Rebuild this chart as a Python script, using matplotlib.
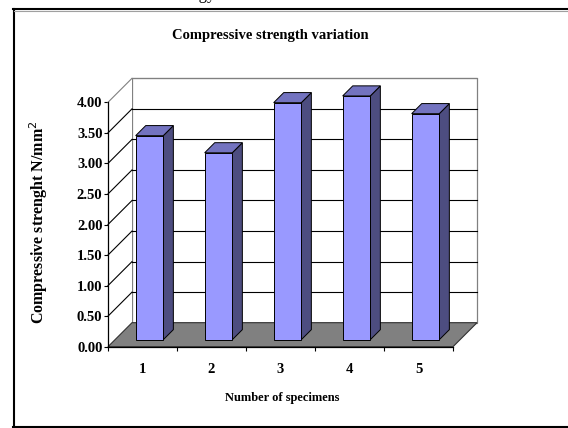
import numpy as np
import matplotlib
matplotlib.use("Agg")
import matplotlib.pyplot as plt
from matplotlib.patches import Polygon, Rectangle
from matplotlib.lines import Line2D
from matplotlib.ticker import FormatStrFormatter

# ── data ─────────────────────────────────────────────────────────────────────
specimens = ["1", "2", "3", "4", "5"]
strength = [3.34, 3.06, 3.88, 3.99, 3.70]
yticks = [0.0, 0.5, 1.0, 1.5, 2.0, 2.5, 3.0, 3.5, 4.0]

# ── palette ──────────────────────────────────────────────────────────────────
FRONT = "#9999FF"
SIDE = "#4D4D80"
TOP = "#7373C0"
FLOOR = "#808080"
WALL_EDGE = "#808080"
SERIF = ["Liberation Serif", "DejaVu Serif"]

# oblique depth offset (data units for full depth)
DX, DY = 0.348, 0.393
D0, D1 = 0.29, 0.71      # bar depth range
HALF = 0.2               # half bar width

W, H = 568, 428
fig = plt.figure(figsize=(W / 100, H / 100), dpi=100)
fig.patch.set_facecolor("white")

ax = fig.add_axes([108 / W, (H - 346.7) / H, 345 / W, 244.4 / H])
ax.set_xlim(0, 5)
ax.set_ylim(0, 4)
ax.patch.set_visible(False)
for s in ["top", "right"]:
    ax.spines[s].set_visible(False)
for s in ["left", "bottom"]:
    ax.spines[s].set_color("black")
    ax.spines[s].set_linewidth(0.9)
    ax.spines[s].set_zorder(6)

n = len(strength)
top = yticks[-1]

# back wall
ax.add_patch(Rectangle((DX, DY), n, top, facecolor="white",
                       edgecolor=WALL_EDGE, lw=0.9, zorder=1, clip_on=False))
# side wall
ax.add_patch(Polygon([(0, 0), (DX, DY), (DX, top + DY), (0, top)],
                     closed=True, facecolor="white", edgecolor="none",
                     zorder=1, clip_on=False))
# gridlines on back and side walls
for v in yticks[1:]:
    c = WALL_EDGE if v == top else "black"
    ax.add_line(Line2D([DX, n + DX], [v + DY, v + DY], color=c, lw=0.8,
                       zorder=2, clip_on=False))
    ax.add_line(Line2D([0, DX], [v, v + DY], color=c, lw=0.8,
                       zorder=2, clip_on=False))

# floor
ax.add_patch(Polygon([(0, 0), (n, 0), (n + DX, DY), (DX, DY)], closed=True,
                     facecolor=FLOOR, edgecolor="#303030", lw=0.8,
                     zorder=3, clip_on=False))

# bars
for i, h in enumerate(strength):
    c = i + 0.5
    xl0, xr0 = c - HALF + D0 * DX, c + HALF + D0 * DX
    xl1, xr1 = c - HALF + D1 * DX, c + HALF + D1 * DX
    y0, y1 = D0 * DY, D1 * DY
    kw = dict(closed=True, edgecolor="black", lw=0.7, zorder=4, clip_on=False)
    ax.add_patch(Polygon([(xr0, y0), (xr1, y1), (xr1, h + y1), (xr0, h + y0)],
                         facecolor=SIDE, **kw))
    ax.add_patch(Polygon([(xl0, h + y0), (xr0, h + y0), (xr1, h + y1), (xl1, h + y1)],
                         facecolor=TOP, **kw))
    ax.add_patch(Polygon([(xl0, y0), (xr0, y0), (xr0, h + y0), (xl0, h + y0)],
                         facecolor=FRONT, **kw))

# ticks
ax.set_yticks(yticks)
ax.yaxis.set_major_formatter(FormatStrFormatter("%.2f"))
ax.tick_params(axis="y", direction="out", length=3, width=0.8, pad=1,
               labelsize=10.5)
ax.set_xticks(np.arange(n + 1))
ax.set_xticklabels([])
ax.set_xticks(np.arange(n) + 0.5, minor=True)
ax.set_xticklabels(specimens, minor=True)
ax.tick_params(axis="x", which="major", direction="out", length=3, width=0.8)
ax.tick_params(axis="x", which="minor", length=0, pad=12, labelsize=10.5)
for lab in ax.get_xticklabels(minor=True) + ax.get_yticklabels():
    lab.set_family(SERIF)
    lab.set_fontweight("bold")

# texts
fig.text(270 / W, 1 - 35 / H, "Compressive strength variation", family=SERIF,
         fontweight="bold", fontsize=10.5, ha="center", va="center")
fig.text(282 / W, 1 - 398 / H, "Number of specimens", family=SERIF,
         fontweight="bold", fontsize=9, ha="center", va="center")
fig.text(39 / W, 1 - 222 / H, "Compressive strenght N/mm$^{2}$", family=SERIF,
         fontweight="bold", fontsize=11.5, ha="center", va="center",
         rotation=90)
fig.text(216 / W, 1 + 1 / H, "Technology", family=SERIF, fontsize=12,
         ha="right", va="baseline")

# outer frame
fig.add_artist(Line2D([13.5 / W, 13.5 / W], [1 - 426.5 / H, 1 - 8.5 / H],
                      color="black", lw=1.5, transform=fig.transFigure))
fig.add_artist(Line2D([13 / W, 1], [1 - 8.5 / H, 1 - 8.5 / H],
                      color="black", lw=1.5, transform=fig.transFigure))
fig.add_artist(Line2D([14 / W, 1], [1 - 10.5 / H, 1 - 10.5 / H],
                      color="#a0a0a0", lw=0.8, transform=fig.transFigure))
fig.add_artist(Line2D([13 / W, 1], [1 - 426.5 / H, 1 - 426.5 / H],
                      color="black", lw=1.5, transform=fig.transFigure))

fig.savefig("out.png", dpi=100)
